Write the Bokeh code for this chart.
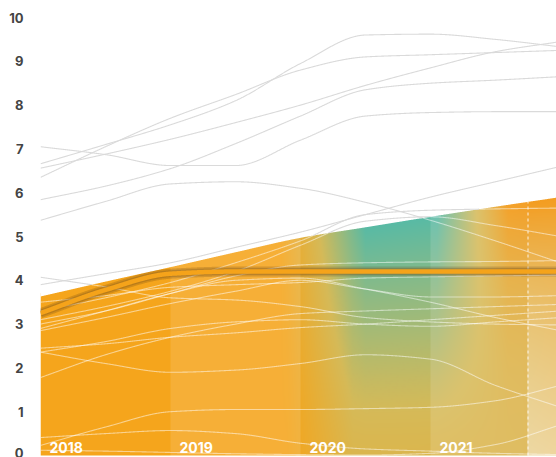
import numpy as np
from bokeh.plotting import figure
from bokeh.models import Range1d, FixedTicker
from bokeh.core.properties import value
from bokeh.embed import file_html
from bokeh.resources import INLINE

# ---------------- data ----------------
YEARS = [2018, 2018.5, 2019, 2019.5, 2020, 2020.5, 2021, 2021.5, 2022]
YEAR_LABELS = [2018, 2019, 2020, 2021]
Y_TICKS = list(range(0, 11))

area_top = [3.63, 3.97, 4.30, 4.64, 4.97, 5.21, 5.45, 5.68, 5.90]
benchmark = [3.25, 3.78, 4.15, 4.20, 4.20, 4.20, 4.20, 4.20, 4.20]

L1 = [6.66, 7.10, 7.55, 8.10, 8.95, 9.60, 9.62, 9.50, 9.33]
L2 = [6.35, 7.05, 7.70, 8.24, 8.80, 9.10, 9.15, 9.20, 9.25]
L3 = [6.56, 6.88, 7.22, 7.60, 8.00, 8.45, 8.85, 9.22, 9.45]
L4 = [5.84, 6.15, 6.55, 7.12, 7.75, 8.35, 8.50, 8.57, 8.65]
L5 = [7.05, 6.87, 6.62, 6.62, 7.20, 7.75, 7.83, 7.85, 7.85]
L6 = [5.37, 5.80, 6.20, 6.25, 6.10, 5.78, 5.37, 4.90, 4.40]
LG = [3.90, 4.15, 4.40, 4.75, 5.10, 5.50, 5.90, 6.25, 6.60]
LP = [3.30, 3.60, 3.95, 4.40, 4.90, 5.50, 5.60, 5.63, 5.65]
LQ = [3.10, 3.40, 3.75, 4.20, 4.80, 5.35, 5.45, 5.25, 5.00]
LS = [3.00, 3.30, 3.70, 4.10, 4.35, 4.40, 4.42, 4.43, 4.45]
LR = [4.07, 3.85, 3.60, 3.55, 3.40, 3.15, 3.05, 3.00, 2.98]
LT = [2.90, 3.30, 3.70, 4.00, 4.05, 3.80, 3.50, 3.15, 2.85]
LU = [2.85, 3.15, 3.47, 3.75, 4.00, 3.80, 3.62, 3.62, 3.65]
LA = [3.50, 3.65, 3.84, 3.90, 3.95, 4.05, 4.08, 4.10, 4.12]
LV = [1.78, 2.30, 2.70, 3.00, 3.24, 3.30, 3.35, 3.40, 3.45]
LW = [2.36, 2.60, 2.90, 3.05, 3.10, 3.00, 2.95, 3.05, 3.15]
LZ = [2.45, 2.55, 2.70, 2.80, 2.92, 3.00, 3.10, 3.20, 3.30]
LM = [2.36, 2.10, 1.90, 1.95, 2.10, 2.30, 2.20, 1.60, 1.10]
LN = [0.23, 0.65, 1.00, 1.05, 1.05, 1.07, 1.10, 1.25, 1.60]
LO = [0.41, 0.50, 0.57, 0.50, 0.28, 0.15, 0.10, 0.05, 0.02]
LX = [0.12, 0.10, 0.07, 0.04, 0.02, 0.01, 0.05, 0.25, 0.70]

series = [L1, L2, L3, L4, L5, L6, LG, LP, LQ, LS, LR, LT, LU, LA, LV, LW, LZ, LM, LN, LO, LX]
NOW = 2021.75


# ---------------- smooth rendering (monotone cubic) ----------------
def pchip(x, y, xs):
    x = np.asarray(x, float); y = np.asarray(y, float)
    h = np.diff(x); d = np.diff(y) / h
    n = len(x); m = np.zeros(n)
    for k in range(1, n - 1):
        if d[k - 1] * d[k] > 0:
            w1 = 2 * h[k] + h[k - 1]; w2 = h[k] + 2 * h[k - 1]
            m[k] = (w1 + w2) / (w1 / d[k - 1] + w2 / d[k])
    m[0] = d[0]; m[-1] = d[-1]
    idx = np.clip(np.searchsorted(x, xs) - 1, 0, n - 2)
    t = (xs - x[idx]) / h[idx]
    h00 = 2 * t**3 - 3 * t**2 + 1; h10 = t**3 - 2 * t**2 + t
    h01 = -2 * t**3 + 3 * t**2; h11 = t**3 - t**2
    return h00 * y[idx] + h10 * h[idx] * m[idx] + h01 * y[idx + 1] + h11 * h[idx] * m[idx + 1]


xs = np.linspace(YEARS[0], YEARS[-1], 1201)
top_s = pchip(YEARS, area_top, xs)

# ---------------- figure ----------------
PX_YEAR = 130.0
PX_UNIT = 43.8
W, HGT = 556, 457
LEFT = 40
p = figure(width=W, height=HGT, output_backend="svg", toolbar_location=None,
           x_range=Range1d(2018, 2018 + (W - LEFT) / PX_YEAR),
           y_range=Range1d(-2 / PX_UNIT, 10 + 17 / PX_UNIT),
           min_border_left=LEFT, min_border_right=0, min_border_top=0, min_border_bottom=0)
p.outline_line_color = None
p.grid.visible = False
p.xaxis.visible = False
p.background_fill_color = "white"
p.border_fill_color = "white"
ya = p.yaxis[0]
ya.ticker = FixedTicker(ticks=Y_TICKS)
ya.axis_line_color = None
ya.major_tick_line_color = None
ya.minor_tick_line_color = None
ya.major_label_standoff = 11
ya.major_label_text_font = "Inter"
ya.major_label_text_font_size = "13px"
ya.major_label_text_font_style = "bold"
ya.major_label_text_color = "#444444"

# ---------------- gradient fill image ----------------
nx, ny = 520, 290
H = 6.5
xg = YEARS[0] + (np.arange(nx) + 0.5) * (YEARS[-1] - YEARS[0]) / nx
vg = (np.arange(ny) + 0.5) * H / ny
top_g = pchip(YEARS, area_top, xg)
frac = np.clip(vg[:, None] / top_g[None, :], 0, 1)
w_top = np.interp(xg, [2019.85, 2020.5, 2021.05, 2021.6], [0, 1, 1, 0])
w_bot = np.interp(xg, [2019.9, 2020.4, 2021.7, 2022.0], [0, 1, 1, 0.8])
wx = w_top[None, :] * frac + w_bot[None, :] * (1 - frac)
t = wx * (0.38 + 0.62 * frac**1.3)

orange_l = np.array([245, 165, 28], float)
orange_r = np.array([243, 146, 8], float)
k = np.clip((xg - 2020.9) / 0.8, 0, 1)[None, :, None]
orange = orange_l * (1 - k) + orange_r * k
mid = np.array([214, 186, 88], float)
teal = np.array([88, 186, 166], float)
t3 = t[:, :, None]
a1 = np.clip(t3 / 0.45, 0, 1)
a2 = np.clip((t3 - 0.45) / 0.55, 0, 1)
col = np.where(t3 <= 0.45, orange * (1 - a1) + mid * a1, mid * (1 - a2) + teal * a2)

ov = np.zeros((ny, nx))
ov[:, (xg >= 2019) & (xg < 2020)] = 0.12
ov[:, (xg >= 2021) & (xg < NOW)] = 0.13
right = xg >= NOW
ov[:, right] = (0.10 + 0.40 * (1 - frac))[:, right]
col = col * (1 - ov[:, :, None]) + 255 * ov[:, :, None]

img = np.empty((ny, nx), dtype=np.uint32)
view = img.view(dtype=np.uint8).reshape((ny, nx, 4))
view[:, :, 0] = col[:, :, 0].astype(np.uint8)
view[:, :, 1] = col[:, :, 1].astype(np.uint8)
view[:, :, 2] = col[:, :, 2].astype(np.uint8)
view[:, :, 3] = np.where(vg[:, None] > top_g[None, :] + 0.06, 0, 255).astype(np.uint8)
p.image_rgba(image=[img], x=YEARS[0], y=0, dw=YEARS[-1] - YEARS[0], dh=H)

# white mask above the area
mx = np.concatenate([[YEARS[0] - 0.1], xs])
my = np.concatenate([[top_s[0]], top_s])
p.varea(x=mx, y1=my, y2=11, fill_color="white")

# "now" marker
now_top = float(pchip(YEARS, area_top, np.array([NOW]))[0])
p.segment(x0=[NOW], y0=[0], x1=[NOW], y1=[now_top], line_color="white",
          line_alpha=0.85, line_width=1, line_dash="3 3")

# ---------------- lines ----------------
gray_ys, white_ys = [], []
for s in series:
    ys = pchip(YEARS, s, xs)
    gray_ys.append(np.where(ys >= top_s, ys, np.nan))
    white_ys.append(np.where(ys <= top_s, ys, np.nan))
p.multi_line(xs=[xs] * len(series), ys=gray_ys, line_color="#dadada", line_width=1.1)
p.multi_line(xs=[xs] * len(series), ys=white_ys, line_color="white", line_alpha=0.5, line_width=1.1)

# benchmark thick line
bs = pchip(YEARS, benchmark, xs)
p.line(xs, bs, line_color="#5a3d10", line_alpha=0.22, line_width=10)
p.line(xs, bs, line_color="#7a5520", line_alpha=0.3, line_width=7)
p.line(xs, bs, line_color="#F5A31A", line_width=4.5)

# year labels
p.text(x=YEAR_LABELS, y=[0] * len(YEAR_LABELS), text=[str(y) for y in YEAR_LABELS],
       x_offset=9, y_offset=-8, text_baseline="middle", text_align="left",
       text_color="white", text_font=value("Inter"), text_font_size="14px",
       text_font_style="bold")

open("out.html", "w").write(file_html(p, INLINE))
